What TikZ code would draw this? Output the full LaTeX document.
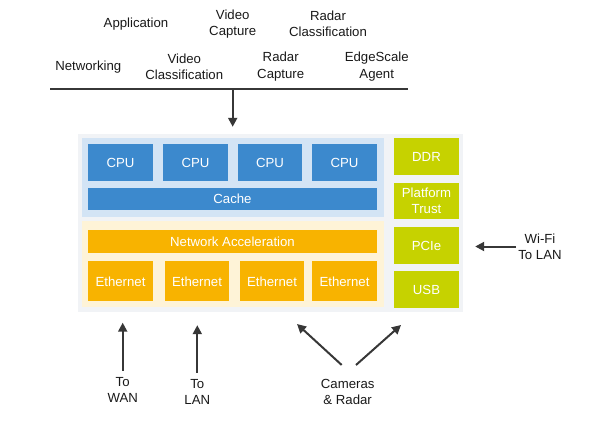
\documentclass[tikz,border=0pt]{standalone}
\usepackage{fontspec}
\setmainfont{Liberation Sans}
\usetikzlibrary{arrows.meta}

\definecolor{cpublue}{RGB}{60,137,205}
\definecolor{cpubg}{RGB}{211,228,245}
\definecolor{netorange}{RGB}{248,179,0}
\definecolor{netbg}{RGB}{254,243,215}
\definecolor{iogreen}{RGB}{198,210,0}
\definecolor{socgrey}{RGB}{241,243,246}
\definecolor{textgrey}{RGB}{25,25,25}
\definecolor{arrowgrey}{RGB}{55,55,55}

\begin{document}
\begin{tikzpicture}[x = 1pt, y = -1pt,
	font = \fontsize{13.2}{16.3}\selectfont,
	txt/.style = {align = center, text = textgrey, inner xsep = 2pt, inner ysep = 6.5pt},
	area/.style = {inner sep = 0pt},
	blk/.style = {inner sep = 0pt, align = center, text = white},
	cpu/.style = {blk, fill = cpublue, minimum width = 64.5, minimum height = 37},
	eth/.style = {blk, fill = netorange, minimum width = 64.5, minimum height = 40},
	io/.style = {blk, fill = iogreen, minimum width = 65, minimum height = 36.7},
	arr/.style = {draw = arrowgrey, line width = 2pt, -{Triangle[length = 9pt, width = 9pt]}}]
	\useasboundingbox (0,0) rectangle (595,423);

	\path
	(136,24) node[txt](App){Application}
	(232.7,24) node[txt](VidCap){Video\\Capture}
	(328,24) node[txt](RadCls){Radar\\Classification}
	(88.3,66.7) node[txt](Net){Networking}
	(184.3,66.5) node[txt](VidCls){Video\\Classification}
	(280.7,66.5) node[txt](RadCap){Radar\\Capture}
	(376.7,66.5) node[txt](Edge){EdgeScale\\Agent}

	(270.5,223) node[area, fill = socgrey, minimum width = 385, minimum height = 178](SoC){}
	(233,177.5) node[area, fill = cpubg, minimum width = 302, minimum height = 79](CpuBg){}
	(233,264) node[area, fill = netbg, minimum width = 302, minimum height = 86](NetBg){}

	(120.5,162.6) node[cpu](CPU1){CPU}
	(195.5,162.6) node[cpu](CPU2){CPU}
	(270,162.6) node[cpu](CPU3){CPU}
	(344.5,162.6) node[cpu](CPU4){CPU}
	(232.5,199.2) node[blk, fill = cpublue, minimum width = 289, minimum height = 21.7](Cache){Cache}

	(232.5,241.7) node[blk, fill = netorange, minimum width = 289, minimum height = 23.3](NetAcc){Network Acceleration}
	(120.5,281.3) node[eth](Eth1){Ethernet}
	(197,281.3) node[eth](Eth2){Ethernet}
	(272,281.3) node[eth](Eth3){Ethernet}
	(344.5,281.3) node[eth](Eth4){Ethernet}

	(426.5,156.5) node[io](DDR){DDR}
	(426.5,201) node[io](Trust){Platform\\Trust}
	(426.5,245.7) node[io](PCIe){PCIe}
	(426.5,289.7) node[io](USB){USB}

	(540,246.5) node[txt](WiFi){Wi-Fi\\To LAN}
	(122.7,390) node[txt](WAN){To\\WAN}
	(197.3,392) node[txt](LAN){To\\LAN}
	(347.7,392) node[txt](Cams){Cameras\\\& Radar}
	;

	\coordinate (BusL) at (50,89);
	\coordinate (BusR) at (408,89);
	\coordinate (BusC) at (232.7,89);
	\coordinate (CamL) at (341.7,365);
	\coordinate (CamR) at (356,365);
	\coordinate (CamTipL) at (297,324);
	\coordinate (CamTipR) at (401,325);

	\draw[arrowgrey, line width = 2pt] (BusL) -- (BusR);
	\draw[arr, shorten >= 7pt] (BusC) -- (BusC |- SoC.north);
	\draw[arr, shorten >= 10.5pt] (WAN.north) -- (WAN.north |- SoC.south);
	\draw[arr, shorten >= 13pt] (LAN.north) -- (LAN.north |- SoC.south);
	\draw[arr] (CamL) -- (CamTipL);
	\draw[arr] (CamR) -- (CamTipR);
	\draw[arr, shorten >= 16pt] (WiFi.west) -- (WiFi.west -| PCIe.east);
\end{tikzpicture}
\end{document}
